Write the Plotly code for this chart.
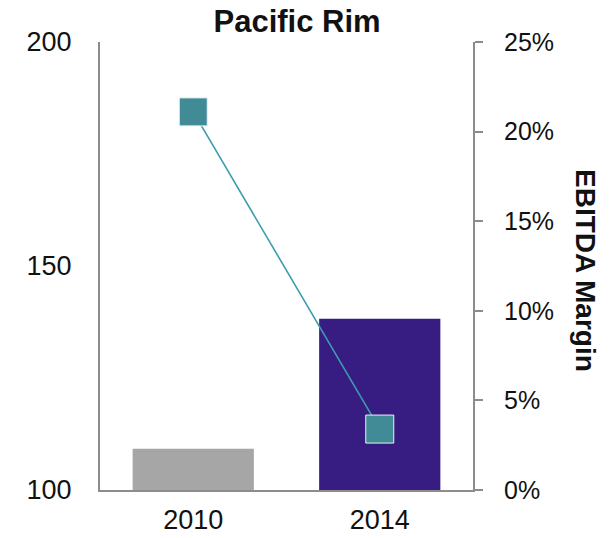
import plotly.graph_objects as go

# Revenue index and EBITDA margin for the Pacific Rim region
years = ["2010", "2014"]
revenue_index = [109.2, 138.2]
ebitda_margin = [0.211, 0.034]
bar_colors = ["#A6A6A6", "#371C82"]

left_ticks = [100, 150, 200]
right_ticks = [0, 0.05, 0.10, 0.15, 0.20, 0.25]
right_labels = ["0%", "5%", "10%", "15%", "20%", "25%"]

fig = go.Figure()

fig.add_trace(go.Bar(
    x=years, y=[v - 100 for v in revenue_index], base=100,
    marker=dict(color=bar_colors, line=dict(width=0)),
    width=0.65, yaxis="y", showlegend=False,
))

fig.add_trace(go.Scatter(
    x=years, y=ebitda_margin, yaxis="y2", mode="lines+markers",
    line=dict(color="#3C9DAD", width=1.6),
    marker=dict(symbol="square", size=28, color="#408B96",
                line=dict(color="#E8F2F4", width=1)),
    showlegend=False,
))

fig.update_layout(
    width=610, height=538,
    margin=dict(l=100, r=137, t=42, b=48),
    paper_bgcolor="white", plot_bgcolor="white",
    font=dict(family="Liberation Sans, Arial, sans-serif", size=27, color="#111"),
    title=dict(text="<b>Pacific Rim</b>", x=0.487, xanchor="center",
               y=0.961, yanchor="middle", font=dict(size=31, color="#111")),
    xaxis=dict(type="category", range=[-0.5, 1.5], showgrid=False,
               showline=True, linecolor="#8C8C8C", linewidth=2,
               ticks="", ticklabelstandoff=5, automargin=False),
    yaxis=dict(range=[100, 200], tickvals=left_ticks, showgrid=False,
               showline=True, linecolor="#8C8C8C", linewidth=2,
               ticks="", ticklabelstandoff=21, zeroline=False, automargin=False),
    yaxis2=dict(range=[0, 0.25], tickvals=right_ticks, ticktext=right_labels,
                overlaying="y", side="right", showgrid=False,
                showline=True, linecolor="#8C8C8C", linewidth=2,
                ticks="outside", ticklen=8, tickcolor="#8C8C8C", tickwidth=2,
                ticklabelstandoff=16, zeroline=False, automargin=False,
                tickfont=dict(family="Liberation Sans, Arial, sans-serif", size=25)),
    annotations=[dict(
        text="<b>EBITDA Margin</b>", textangle=90, xref="paper", yref="paper",
        x=1.30, y=0.489, xanchor="center", yanchor="middle", showarrow=False,
        font=dict(size=28, color="#111"),
    )],
)

fig.write_html("out.html")
